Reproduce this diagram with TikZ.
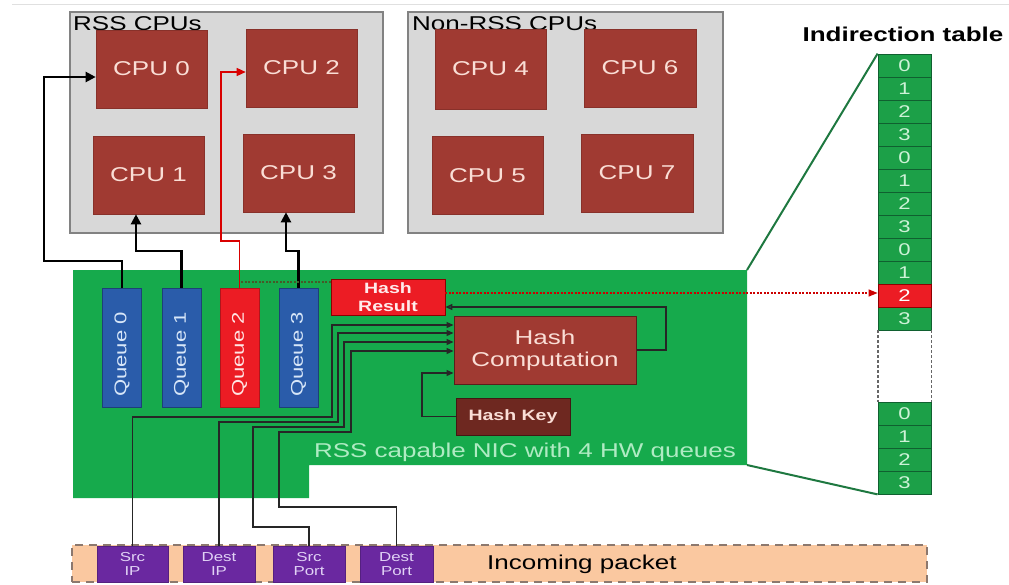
\documentclass[tikz,border=0pt]{standalone}
\usepackage{fontspec}
\setmainfont{Liberation Sans}[FakeStretch=1.3]
\usetikzlibrary{arrows.meta}
\definecolor{cpured}{RGB}{160,58,50}
\definecolor{cputext}{RGB}{250,222,214}
\definecolor{boxgray}{RGB}{216,216,216}
\definecolor{boxedge}{RGB}{130,130,130}
\definecolor{nicgreen}{RGB}{22,170,76}
\definecolor{nictext}{RGB}{175,235,195}
\definecolor{qblue}{RGB}{42,92,170}
\definecolor{qtext}{RGB}{215,230,248}
\definecolor{hred}{RGB}{236,28,36}
\definecolor{hkey}{RGB}{110,40,32}
\definecolor{tgreen}{RGB}{28,160,72}
\definecolor{tedge}{RGB}{16,96,48}
\definecolor{ttext}{RGB}{205,242,215}
\definecolor{purp}{RGB}{106,40,160}
\definecolor{purptext}{RGB}{225,210,245}
\definecolor{peach}{RGB}{250,200,160}
\definecolor{pkedge}{RGB}{140,120,110}
\definecolor{trap}{RGB}{30,120,64}
\definecolor{teal}{RGB}{20,80,70}
\definecolor{olive}{RGB}{70,90,40}
\begin{document}
\begin{tikzpicture}[x=1pt,y=-1pt,
  grp/.style={draw=boxedge, fill=boxgray, line width=1.2pt, inner sep=0pt},
  grplabel/.style={anchor=base west, inner sep=0pt, font=\fontsize{20}{24}\selectfont},
  cpu/.style={fill=cpured, draw=cpured!85!black, line width=0.6pt, text=cputext,
    font=\fontsize{20}{24}\selectfont, minimum width=111pt, minimum height=78pt, inner sep=0pt},
  qbox/.style={fill=qblue, draw=qblue!70!black, line width=0.8pt, text=qtext,
    font=\fontsize{17}{20}\selectfont, minimum width=39pt, minimum height=119pt, inner sep=0pt},
  cell/.style={fill=tgreen, draw=tedge, line width=0.8pt, text=ttext,
    font=\fontsize{17}{18}\selectfont, minimum width=53pt, minimum height=23pt, inner sep=0pt},
  field/.style={fill=purp, draw=purp!80!black, line width=0.6pt, text=purptext, align=center,
    font=\fontsize{13}{14}\selectfont, minimum height=36pt, inner sep=0pt},
  cpuarr/.style={draw=black, line width=2.2pt, -{Triangle[length=10pt,width=10pt]}},
  redarr/.style={draw=red!85!black, line width=1.4pt, -{Triangle[length=9pt,width=8pt]}},
  inarr/.style={draw=black!85, line width=1.3pt, -{Triangle[length=7pt,width=6pt]}},
  retarr/.style={draw=black!85, line width=1.3pt, -{Triangle[length=7pt,width=6pt,fill=teal]}},
  tline/.style={draw=trap, line width=2pt},
]
\useasboundingbox (0,0) rectangle (1009,584);
% faint top line
\draw[black!12, line width=1pt] (12,4) -- (1009,4);
% CPU groups
\node[grp, minimum width=313pt, minimum height=221pt] (rss) at (226.5,122.5) {};
\node[grplabel] (rsslbl) at (73,30) {RSS CPUs};
\node[grp, minimum width=315pt, minimum height=221pt] (nrss) at (565.5,122.5) {};
\node[grplabel] (nrsslbl) at (412,30) {Non-RSS CPUs};
\node[cpu] (cpu0) at (151.5,69) {CPU 0};
\node[cpu] (cpu2) at (301.5,68) {CPU 2};
\node[cpu] (cpu1) at (148.5,175) {CPU 1};
\node[cpu] (cpu3) at (298.5,173) {CPU 3};
\node[cpu, minimum height=80pt] (cpu4) at (490.5,69) {CPU 4};
\node[cpu, minimum width=112pt] (cpu6) at (640,68) {CPU 6};
\node[cpu] (cpu5) at (487.5,175.5) {CPU 5};
\node[cpu, minimum width=112pt] (cpu7) at (637,173) {CPU 7};
% NIC
\fill[nicgreen] (73,270) -- (747,270) -- (747,465) -- (309,465) -- (309,498) -- (73,498) -- cycle;
\node[anchor=center, inner sep=0pt, text=nictext, font=\fontsize{20}{24}\selectfont] (niclbl) at (525,452) {RSS capable NIC with 4 HW queues};
% queues
\node[qbox] (q0) at (122,347.5) {\rotatebox{90}{Queue 0\hspace*{14pt}}};
\node[qbox] (q1) at (181.5,347.5) {\rotatebox{90}{Queue 1\hspace*{14pt}}};
\node[qbox, fill=hred, draw=hred!75!black, text=white!90!red] (q2) at (239.5,347.5) {\rotatebox{90}{Queue 2\hspace*{14pt}}};
\node[qbox] (q3) at (298.5,347.5) {\rotatebox{90}{Queue 3\hspace*{14pt}}};
% hash blocks
\node[fill=hred, draw=red!55!black, line width=0.8pt, text=white!92!red, align=center,
  font=\bfseries\fontsize{15}{18}\selectfont, minimum width=114pt, minimum height=36pt, inner sep=0pt] (hr) at (388,297) {Hash\\Result};
\node[fill=cpured, draw=cpured!55!black, line width=1pt, text=cputext, align=center,
  font=\fontsize{20}{22}\selectfont, minimum width=182pt, minimum height=68pt, inner sep=0pt] (hc) at (545,350) {Hash\\Computation};
\node[fill=hkey, draw=hkey!60!black, line width=1pt, text=cputext,
  font=\bfseries\fontsize{15}{18}\selectfont, minimum width=114pt, minimum height=37pt, inner sep=0pt] (hk) at (513,416.5) {Hash Key};
% indirection table
\node[anchor=base, inner sep=0pt, font=\bfseries\fontsize{20}{24}\selectfont] (ittl) at (903,41) {Indirection table};
\foreach \i/\v in {0/0,1/1,2/2,3/3,4/0,5/1,6/2,7/3,8/0,9/1,11/3}{
  \node[cell] (t\i) at (904.5,{65.5+23*\i}) {\v};
}
\node[cell, fill=hred, draw=red!55!black, text=white] (t10) at (904.5,{65.5+23*10}) {2};
\foreach \j in {0,1,2,3}{
  \node[cell] (b\j) at (904.5,{413.5+23*\j}) {\j};
}
\draw[black!60, line width=1.8pt, dash pattern=on 3pt off 2pt] (t11.south west) -- (b0.north west);
\draw[black!60, line width=1.8pt, dash pattern=on 3pt off 2pt] (t11.south east) -- (b0.north east);
\draw[tline] (747,270) -- (t0.north west);
\draw[tline] (747,465) -- (b3.south west);
% packet
\node[fill=peach, draw=pkedge, line width=1.5pt, dash pattern=on 8pt off 6pt,
  minimum width=855pt, minimum height=37pt, inner sep=0pt] (pk) at (499.5,563.5) {};
\node[anchor=base west, inner sep=0pt, font=\fontsize{20}{24}\selectfont] (pklbl) at (487,569) {Incoming packet};
\node[field, minimum width=71pt] (sip) at (132.5,564) {Src\\IP};
\node[field, minimum width=72pt] (dip) at (219,564) {Dest\\IP};
\node[field, minimum width=72pt] (spt) at (309,564) {Src\\Port};
\node[field, minimum width=73pt] (dpt) at (396.5,564) {Dest\\Port};
% queue -> CPU connectors
\coordinate (k0) at (44,261);
\coordinate (k1) at (136,251);
\coordinate (k2) at (221,241);
\coordinate (k3) at (286,251);
\draw[cpuarr] (q0.north) |- (k0) |- ([yshift=-8pt]cpu0.west);
\draw[cpuarr] (q1.north) |- (k1) -- (k1 |- cpu1.south);
\draw[redarr] (q2.north) |- (k2) |- ([yshift=-4pt]cpu2.west);
\draw[cpuarr] (q3.north) |- (k3) -- (k3 |- cpu3.south);
% hash result links
\coordinate (kq) at (241,282);
\draw[olive, line width=1.2pt, dash pattern=on 2pt off 1.5pt] ([yshift=15pt]hr.west) -- (kq);
\draw[red!80!black, line width=1.3pt, dash pattern=on 2pt off 1.5pt, -{Triangle[length=9pt,width=7pt]}]
  ([yshift=4pt]hr.east) -- ([yshift=4pt]hr.east -| t10.west);
\coordinate (kr) at (666,307);
\draw[retarr] (hc.east) -| (kr) -- (kr -| hr.east);
\coordinate (kk) at (422,373);
\draw[inarr] (hk.west) -| (kk) -- (kk -| hc.west);
% packet fields -> hash computation
\coordinate (a1) at (332,417); \coordinate (a2) at (332,325);
\coordinate (b1) at (338,422); \coordinate (b2) at (338,333);
\coordinate (c0) at (253,527); \coordinate (c1) at (344,427); \coordinate (c2) at (344,342);
\coordinate (d0) at (279,507); \coordinate (d1) at (351,432); \coordinate (d2) at (351,351);
\draw[inarr] (sip.north) |- (a1) -- (a2) -- (a2 -| hc.west);
\draw[inarr] (dip.north) |- (b1) -- (b2) -- (b2 -| hc.west);
\draw[inarr] (spt.north) |- (c0) |- (c1) -- (c2) -- (c2 -| hc.west);
\draw[inarr] (dpt.north) |- (d0) |- (d1) -- (d2) -- (d2 -| hc.west);
\end{tikzpicture}
\end{document}
